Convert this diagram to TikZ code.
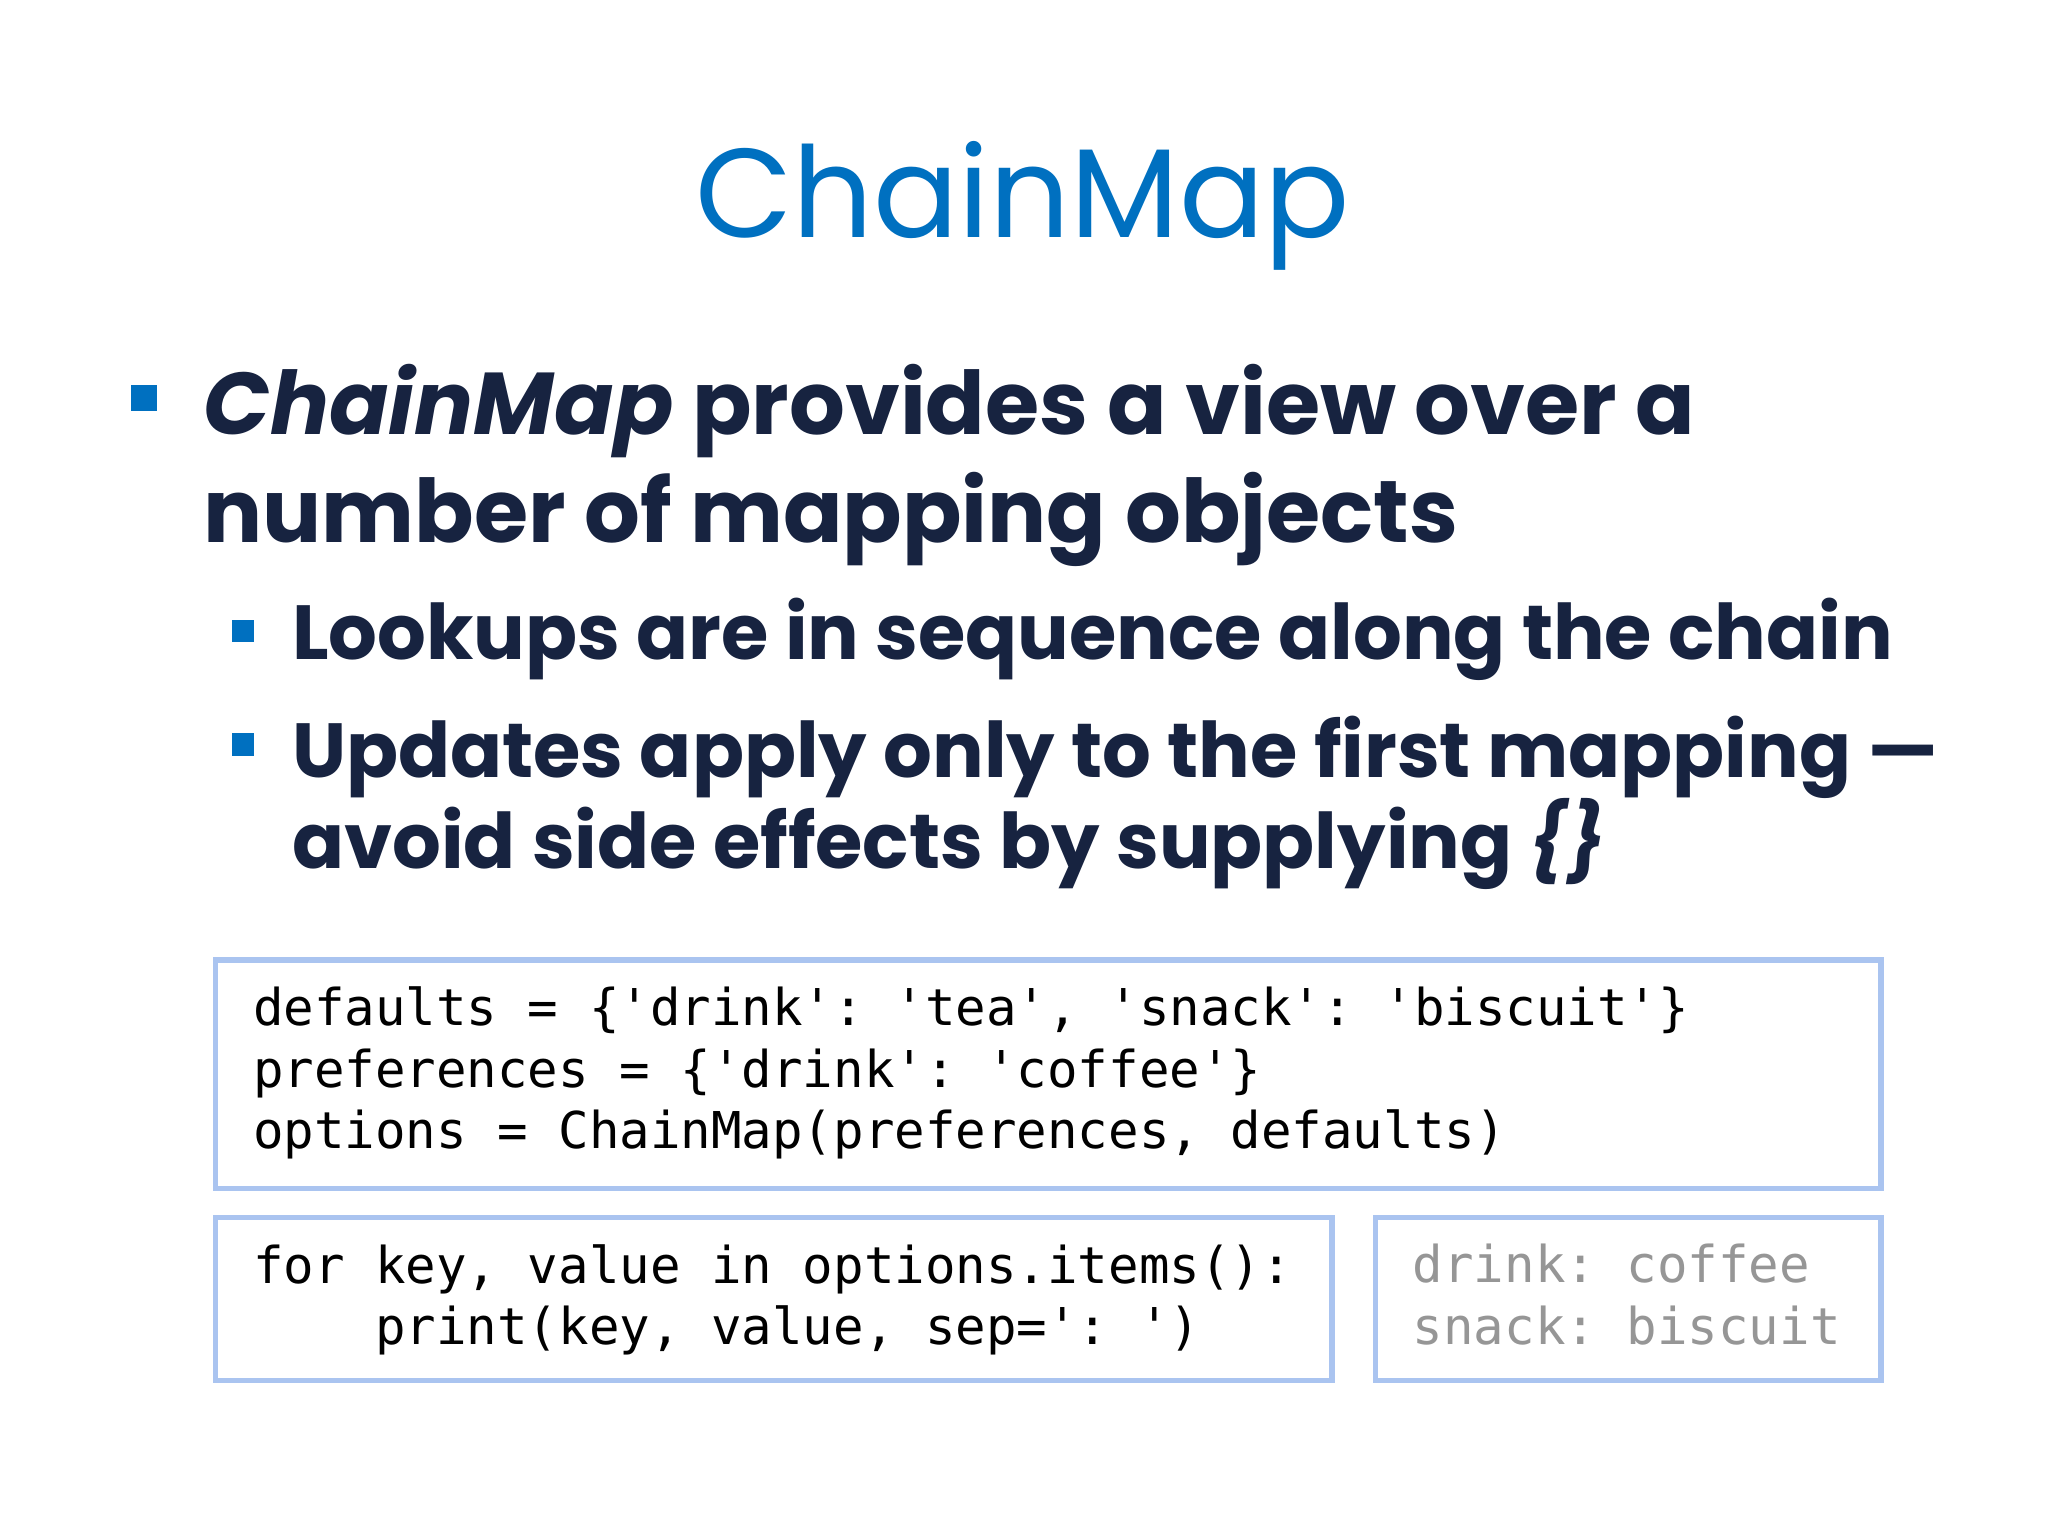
\documentclass[tikz,border=0pt]{standalone}
\usepackage{fontspec}
\setmainfont{Poppins}
\setmonofont{DejaVu Sans Mono}
\definecolor{titleblue}{RGB}{0,112,192}
\definecolor{navy}{RGB}{23,35,64}
\definecolor{boxline}{RGB}{170,196,240}
\definecolor{outgray}{RGB}{150,150,150}

\tikzset{
  bulletsq/.style={fill=titleblue, minimum size=#1, inner sep=0pt},
  bodytext/.style={anchor=base west, inner sep=0pt, text=navy, font=\fontsize{19.1}{23}\selectfont\bfseries},
  subtext/.style={anchor=base west, inner sep=0pt, text=navy, font=\fontsize{16.7}{20}\selectfont\bfseries},
  codebox/.style={draw=boxline, line width=1.2pt, fill=white},
  codetext/.style={anchor=north west, inner sep=0pt, align=left, font=\fontsize{11.05}{13.4}\selectfont\ttfamily}
}

\begin{document}
\begin{tikzpicture}[x=0.01cm, y=-0.01cm]
 \useasboundingbox (0,0) rectangle (1568,1176);
 \fill[white] (0,0) rectangle (1568,1176);

 % title
 \node[anchor=base, inner sep=0pt, text=titleblue, font=\fontsize{27.5}{30}\selectfont] (title) at (783,182) {ChainMap};

 % bullets
 \node[bulletsq=0.2cm] (b1) at (110,305) {};
 \node[bodytext] (l1) at (155,333) {\textit{ChainMap} provides a view over a};
 \node[bodytext] (l2) at (155,415) {number of mapping objects};
 \node[bulletsq=0.17cm] (b2) at (186,483) {};
 \node[subtext] (s1) at (223,505) {Lookups are in sequence along the chain};
 \node[bulletsq=0.17cm] (b3) at (186,570) {};
 \node[subtext] (s2) at (223,595) {Updates apply only to the first mapping ---};
 \node[subtext] (s3) at (223,665) {avoid side effects by supplying \textit{\{\}}};

 % code boxes
 \draw[codebox] (165,735) rectangle (1440,910);
 \node[codetext] (c1) at (193,755) {defaults = \{'drink': 'tea', 'snack': 'biscuit'\}\\preferences = \{'drink': 'coffee'\}\\options = ChainMap(preferences, defaults)};
 \draw[codebox] (165,932) rectangle (1020,1057);
 \node[codetext] (c2) at (193,952) {for key, value in options.items():\\\ \ \ \ print(key, value, sep=': ')};
 \draw[codebox] (1053,932) rectangle (1440,1057);
 \node[codetext, text=outgray] (c3) at (1081,952) {drink: coffee\\snack: biscuit};
\end{tikzpicture}
\end{document}
